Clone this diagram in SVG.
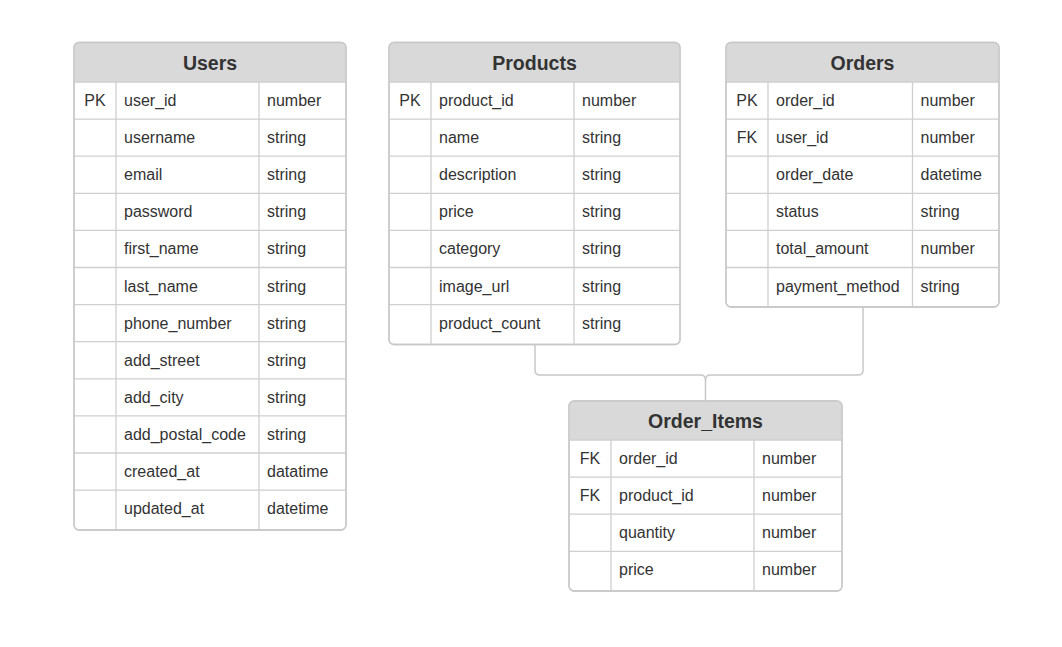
<svg xmlns="http://www.w3.org/2000/svg" width="1062" height="647" viewBox="0 0 1062 647">
<style>
.box{fill:#fff;stroke:#c8c8c8;stroke-width:1.3}
.hdr{fill:#d9d9d9}
.ln{stroke:#cfcfcf;stroke-width:1.3;fill:none}
.ttl{font-family:"Liberation Sans",Arial,sans-serif;font-size:19.5px;font-weight:bold;fill:#333;text-anchor:middle}
.t{font-family:"Liberation Sans",Arial,sans-serif;font-size:16px;fill:#333}
.k{font-family:"Liberation Sans",Arial,sans-serif;font-size:16px;fill:#333;text-anchor:middle}
.conn{fill:none;stroke:#c8c8c8;stroke-width:1.5}
</style>
<rect width="1062" height="647" fill="#fff"/>
<g id="connectors">
<path class="conn" d="M535,344.5 V370 Q535,375 540,375 H700.5 Q705.5,375 705.5,380 V401"/>
<path class="conn" d="M863,307 V370 Q863,375 858,375 H710.5 Q705.5,375 705.5,380"/>
</g>
<g id="Users">
<rect class="box" x="74" y="42.5" width="272" height="487.5" rx="5"/>
<path class="hdr" d="M74.6,82 V47.5 Q74.6,43.1 79,43.1 H341 Q345.4,43.1 345.4,47.5 V82 Z"/>
<path class="ln" d="M74,82 H346 M74,119.1 H346 M74,156.2 H346 M74,193.3 H346 M74,230.4 H346 M74,267.5 H346 M74,304.6 H346 M74,341.7 H346 M74,378.8 H346 M74,415.9 H346 M74,453 H346 M74,490.1 H346 M116,82 V530 M259,82 V530"/>
<rect class="box" x="74" y="42.5" width="272" height="487.5" rx="5" style="fill:none"/>
<text class="ttl" x="210" y="70">Users</text>
<text class="k" x="95" y="106">PK</text>
<text class="t" x="124" y="106">user_id</text><text class="t" x="267" y="106">number</text>
<text class="t" x="124" y="143.1">username</text><text class="t" x="267" y="143.1">string</text>
<text class="t" x="124" y="180.2">email</text><text class="t" x="267" y="180.2">string</text>
<text class="t" x="124" y="217.3">password</text><text class="t" x="267" y="217.3">string</text>
<text class="t" x="124" y="254.4">first_name</text><text class="t" x="267" y="254.4">string</text>
<text class="t" x="124" y="291.5">last_name</text><text class="t" x="267" y="291.5">string</text>
<text class="t" x="124" y="328.6">phone_number</text><text class="t" x="267" y="328.6">string</text>
<text class="t" x="124" y="365.7">add_street</text><text class="t" x="267" y="365.7">string</text>
<text class="t" x="124" y="402.8">add_city</text><text class="t" x="267" y="402.8">string</text>
<text class="t" x="124" y="439.9">add_postal_code</text><text class="t" x="267" y="439.9">string</text>
<text class="t" x="124" y="477">created_at</text><text class="t" x="267" y="477">datatime</text>
<text class="t" x="124" y="514.1">updated_at</text><text class="t" x="267" y="514.1">datetime</text>
</g>
<g id="Products">
<rect class="box" x="389" y="42.5" width="291" height="302" rx="5"/>
<path class="hdr" d="M389.6,82 V47.5 Q389.6,43.1 394,43.1 H675 Q679.4,43.1 679.4,47.5 V82 Z"/>
<path class="ln" d="M389,82 H680 M389,119.1 H680 M389,156.2 H680 M389,193.3 H680 M389,230.4 H680 M389,267.5 H680 M389,304.6 H680 M431,82 V344.5 M574,82 V344.5"/>
<rect class="box" x="389" y="42.5" width="291" height="302" rx="5" style="fill:none"/>
<text class="ttl" x="534.5" y="70">Products</text>
<text class="k" x="410" y="106">PK</text>
<text class="t" x="439" y="106">product_id</text><text class="t" x="582" y="106">number</text>
<text class="t" x="439" y="143.1">name</text><text class="t" x="582" y="143.1">string</text>
<text class="t" x="439" y="180.2">description</text><text class="t" x="582" y="180.2">string</text>
<text class="t" x="439" y="217.3">price</text><text class="t" x="582" y="217.3">string</text>
<text class="t" x="439" y="254.4">category</text><text class="t" x="582" y="254.4">string</text>
<text class="t" x="439" y="291.5">image_url</text><text class="t" x="582" y="291.5">string</text>
<text class="t" x="439" y="328.6">product_count</text><text class="t" x="582" y="328.6">string</text>
</g>
<g id="Orders">
<rect class="box" x="726" y="42.5" width="273" height="264.5" rx="5"/>
<path class="hdr" d="M726.6,82 V47.5 Q726.6,43.1 731,43.1 H994 Q998.4,43.1 998.4,47.5 V82 Z"/>
<path class="ln" d="M726,82 H999 M726,119.1 H999 M726,156.2 H999 M726,193.3 H999 M726,230.4 H999 M726,267.5 H999 M768,82 V307 M912.5,82 V307"/>
<rect class="box" x="726" y="42.5" width="273" height="264.5" rx="5" style="fill:none"/>
<text class="ttl" x="862.5" y="70">Orders</text>
<text class="k" x="747" y="106">PK</text>
<text class="t" x="776" y="106">order_id</text><text class="t" x="920.5" y="106">number</text>
<text class="k" x="747" y="143.1">FK</text>
<text class="t" x="776" y="143.1">user_id</text><text class="t" x="920.5" y="143.1">number</text>
<text class="t" x="776" y="180.2">order_date</text><text class="t" x="920.5" y="180.2">datetime</text>
<text class="t" x="776" y="217.3">status</text><text class="t" x="920.5" y="217.3">string</text>
<text class="t" x="776" y="254.4">total_amount</text><text class="t" x="920.5" y="254.4">number</text>
<text class="t" x="776" y="291.5">payment_method</text><text class="t" x="920.5" y="291.5">string</text>
</g>
<g id="Order_Items">
<rect class="box" x="569" y="401" width="273" height="190" rx="5"/>
<path class="hdr" d="M569.6,440 V406 Q569.6,401.6 574,401.6 H837 Q841.4,401.6 841.4,406 V440 Z"/>
<path class="ln" d="M569,440 H842 M569,477.1 H842 M569,514.2 H842 M569,551.3 H842 M611,440 V591 M754,440 V591"/>
<rect class="box" x="569" y="401" width="273" height="190" rx="5" style="fill:none"/>
<text class="ttl" x="705.5" y="428">Order_Items</text>
<text class="k" x="590" y="464">FK</text>
<text class="t" x="619" y="464">order_id</text><text class="t" x="762" y="464">number</text>
<text class="k" x="590" y="501.1">FK</text>
<text class="t" x="619" y="501.1">product_id</text><text class="t" x="762" y="501.1">number</text>
<text class="t" x="619" y="538.2">quantity</text><text class="t" x="762" y="538.2">number</text>
<text class="t" x="619" y="575.3">price</text><text class="t" x="762" y="575.3">number</text>
</g>
</svg>
